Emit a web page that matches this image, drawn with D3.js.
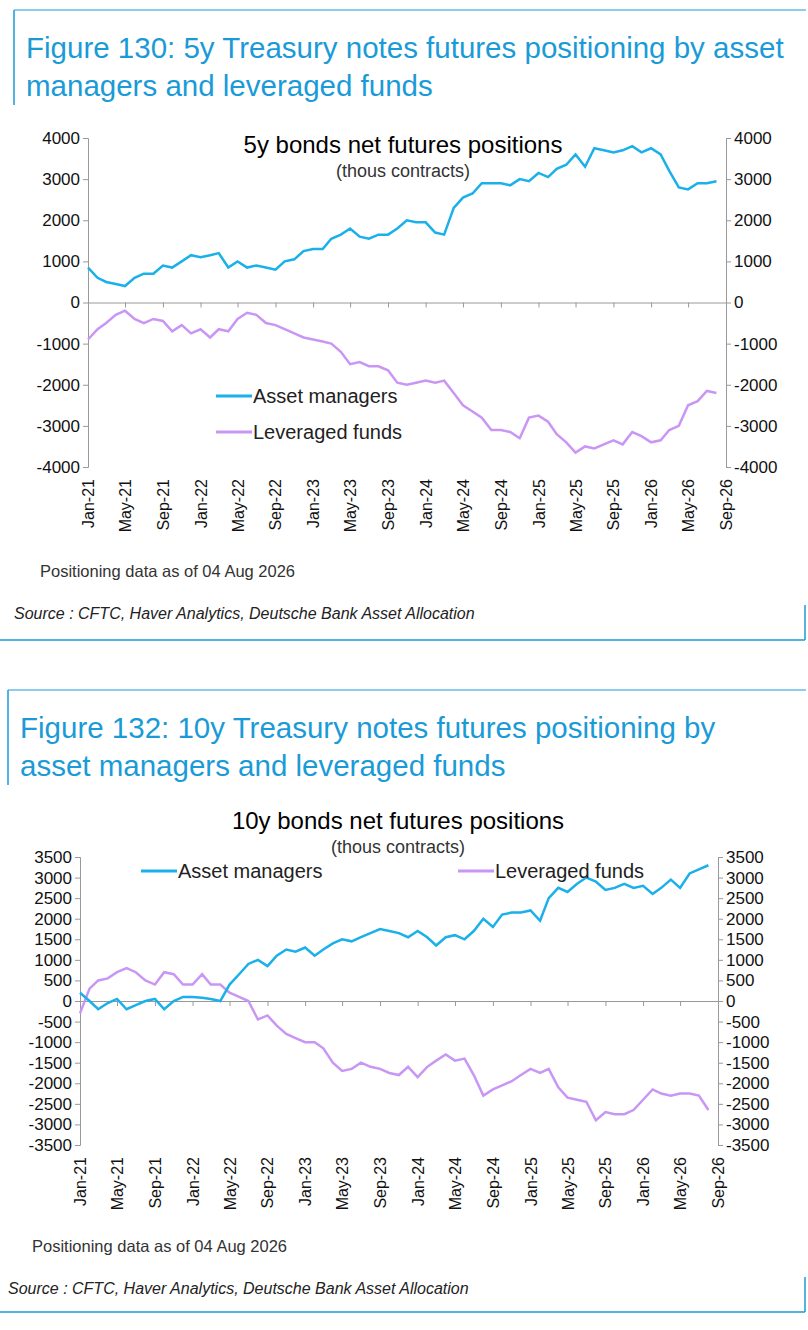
<!DOCTYPE html>
<html><head><meta charset="utf-8">
<script src="https://cdn.jsdelivr.net/npm/d3@7"></script>
<style>
body{margin:0;background:#fff;font-family:"Liberation Sans",Arial,sans-serif}
</style></head><body>
<svg id="fig" width="808" height="1330"></svg>
<script>
// monthly observations, Jan-21 .. Aug-26
var months = d3.range(68).map(function (i) { return new Date(2021, i, 1); });
var tickDates = d3.range(18).map(function (i) { return new Date(2021, i * 4, 1); });

var am5y = [850,600,500,450,400,600,700,700,900,850,1000,1150,1100,1150,1200,850,1000,850,900,850,800,1000,1050,1250,1300,1300,1550,1650,1800,1600,1550,1650,1650,1800,2000,1950,1950,1700,1650,2300,2550,2650,2900,2900,2900,2850,3000,2950,3150,3050,3250,3350,3600,3300,3750,3700,3650,3700,3800,3650,3750,3600,3200,2800,2750,2900,2900,2950];
var lf5y = [-900,-650,-500,-300,-200,-400,-500,-400,-450,-700,-550,-750,-650,-850,-650,-700,-400,-250,-300,-500,-550,-650,-750,-850,-900,-950,-1000,-1200,-1500,-1450,-1550,-1550,-1650,-1950,-2000,-1950,-1900,-1950,-1900,-2200,-2500,-2650,-2800,-3100,-3100,-3150,-3300,-2800,-2750,-2900,-3200,-3400,-3650,-3500,-3550,-3450,-3350,-3450,-3150,-3250,-3400,-3350,-3100,-3000,-2500,-2400,-2150,-2200];
var am10y = [200,0,-200,-50,50,-200,-100,0,50,-200,0,100,100,80,50,0,400,650,900,1000,850,1100,1250,1200,1300,1100,1250,1400,1500,1450,1550,1650,1750,1700,1650,1550,1700,1550,1350,1550,1600,1500,1700,2000,1800,2100,2150,2150,2200,1950,2500,2750,2650,2850,3000,2900,2700,2750,2850,2750,2800,2600,2750,2950,2750,3100,3200,3300];
var lf10y = [-300,300,500,550,700,800,700,500,400,700,650,400,400,650,400,400,200,100,0,-450,-350,-600,-800,-900,-1000,-1000,-1150,-1500,-1700,-1650,-1500,-1600,-1650,-1750,-1800,-1600,-1850,-1600,-1450,-1300,-1450,-1400,-1800,-2300,-2150,-2050,-1950,-1800,-1650,-1750,-1650,-2100,-2350,-2400,-2450,-2900,-2700,-2750,-2750,-2650,-2400,-2150,-2250,-2300,-2250,-2250,-2300,-2650];

var ticks5y = d3.range(-4000, 4001, 1000);
var ticks10y = d3.range(-3500, 3501, 500);

var blue = "#1ab0ea", purple = "#c996f5", brand = "#1a9bd7";
var svg = d3.select("#fig");

function frame(top, bottom, leftX, titleLines, note, noteY, noteX, srcX, srcY) {
  svg.append("line").attr("x1", leftX).attr("x2", 806).attr("y1", top).attr("y2", top)
    .attr("stroke", brand).attr("stroke-width", 1);
  svg.append("line").attr("x1", leftX).attr("x2", leftX).attr("y1", top).attr("y2", top + 95)
    .attr("stroke", brand).attr("stroke-width", 1.5);
  titleLines.forEach(function (t, i) {
    svg.append("text").attr("x", leftX + 12).attr("y", top + 48 + i * 38).text(t)
      .attr("fill", brand).attr("font-size", 29.5);
  });
  svg.append("text").attr("x", noteX).attr("y", noteY).text(note)
    .attr("font-size", 16.5).attr("fill", "#333");
  svg.append("text").attr("x", srcX).attr("y", srcY)
    .text("Source : CFTC, Haver Analytics, Deutsche Bank Asset Allocation")
    .attr("font-size", 16).attr("font-style", "italic").attr("fill", "#222");
  svg.append("line").attr("x1", 0).attr("x2", 805).attr("y1", bottom).attr("y2", bottom)
    .attr("stroke", brand).attr("stroke-width", 1.5);
  svg.append("line").attr("x1", 805).attr("x2", 805).attr("y1", bottom - 35).attr("y2", bottom)
    .attr("stroke", brand).attr("stroke-width", 1.5);
}

function panel(o) {
  var x = d3.scaleTime().domain([tickDates[0], tickDates[17]]).range([o.left, o.right]);
  var y = d3.scaleLinear().domain([o.ticks[0], o.ticks[o.ticks.length - 1]]).range([o.bottom, o.top]);
  var g = svg.append("g");

  var yl = g.append("g").attr("transform", "translate(" + o.left + ",0)")
    .call(d3.axisLeft(y).tickValues(o.ticks).tickSize(5).tickFormat(String));
  var yr = g.append("g").attr("transform", "translate(" + o.right + ",0)")
    .call(d3.axisRight(y).tickValues(o.ticks).tickSize(5).tickFormat(String));
  [yl, yr].forEach(function (a) {
    a.select(".domain").attr("stroke", "#999");
    a.selectAll(".tick line").attr("stroke", "#999");
    a.selectAll("text").attr("font-size", 17).attr("fill", "#111")
      .attr("font-family", "Liberation Sans, Arial, sans-serif");
  });

  var xa = g.append("g").attr("transform", "translate(0," + y(0) + ")")
    .call(d3.axisBottom(x).tickValues(tickDates).tickSize(5).tickFormat(""));
  xa.select(".domain").attr("stroke", "#999");
  xa.selectAll(".tick line").attr("stroke", "#999");

  var fmt = d3.timeFormat("%b-%y");
  g.selectAll(".xl").data(tickDates).enter().append("text")
    .attr("transform", function (d) { return "translate(" + (x(d) + 6) + "," + (o.bottom + 12) + ") rotate(-90)"; })
    .attr("text-anchor", "end").attr("font-size", 16).attr("fill", "#111").text(fmt);

  var line = d3.line().x(function (d, i) { return x(months[i]); }).y(function (d) { return y(d); });
  g.append("path").datum(o.lf).attr("d", line).attr("fill", "none").attr("stroke", purple).attr("stroke-width", 2.5);
  g.append("path").datum(o.am).attr("d", line).attr("fill", "none").attr("stroke", blue).attr("stroke-width", 2.5);

  g.append("text").attr("x", o.tx).attr("y", o.ty).attr("text-anchor", "middle").attr("font-size", 24).text(o.title);
  g.append("text").attr("x", o.tx).attr("y", o.ty + 24).attr("text-anchor", "middle").attr("font-size", 18).attr("fill", "#333").text("(thous contracts)");

  o.legend.forEach(function (l) {
    g.append("line").attr("x1", l.x).attr("x2", l.x + 36).attr("y1", l.y).attr("y2", l.y)
      .attr("stroke", l.c).attr("stroke-width", 3);
    g.append("text").attr("x", l.x + 37).attr("y", l.y + 7).attr("font-size", 20).attr("fill", "#222").text(l.t);
  });
}

frame(10, 640, 14, ["Figure 130: 5y Treasury notes futures positioning by asset", "managers and leveraged funds"],
  "Positioning data as of 04 Aug 2026", 577, 40, 14, 619);
frame(690, 1312, 8, ["Figure 132: 10y Treasury notes futures positioning by", "asset managers and leveraged funds"],
  "Positioning data as of 04 Aug 2026", 1252, 32, 8, 1294);

panel({ left: 88, right: 726, top: 138, bottom: 467, ticks: ticks5y, am: am5y, lf: lf5y,
  title: "5y bonds net futures positions", tx: 403, ty: 153,
  legend: [{ x: 216, y: 396, c: blue, t: "Asset managers" }, { x: 216, y: 432, c: purple, t: "Leveraged funds" }] });
panel({ left: 80, right: 718, top: 857, bottom: 1145, ticks: ticks10y, am: am10y, lf: lf10y,
  title: "10y bonds net futures positions", tx: 398, ty: 829,
  legend: [{ x: 141, y: 871, c: blue, t: "Asset managers" }, { x: 458, y: 871, c: purple, t: "Leveraged funds" }] });
</script>
</body></html>
